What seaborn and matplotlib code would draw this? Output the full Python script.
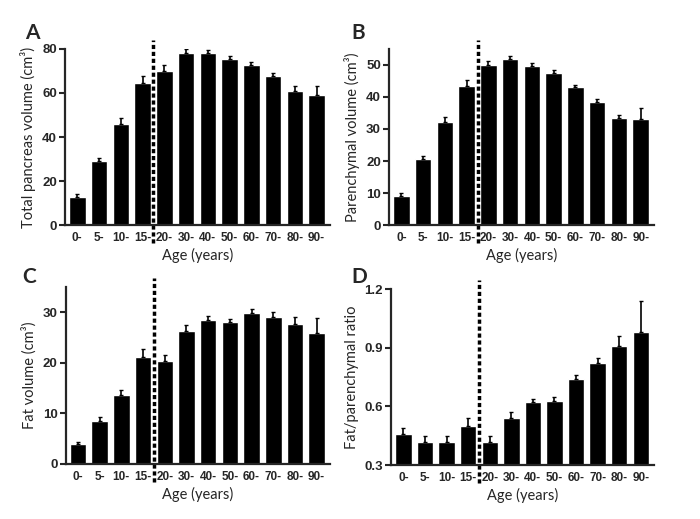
import numpy as np
import pandas as pd
import seaborn as sns
import matplotlib.pyplot as plt

# age groups
ages = ['0-', '5-', '10-', '15-', '20-', '30-', '40-', '50-', '60-', '70-', '80-', '90-']

# panel A: total pancreas volume
total_vol = [13, 29, 46, 64.5, 70, 78, 78, 75.5, 72.5, 67.5, 61, 59]
total_err = [1, 1.5, 2.5, 3, 2.5, 2, 1.5, 1.2, 1.5, 1.5, 2, 4]

# panel B: parenchymal volume
par_vol = [9.2, 20.5, 32.3, 43.3, 49.8, 51.7, 49.7, 47.5, 43, 38.4, 33.3, 33]
par_err = [0.7, 1, 1.5, 2, 1.5, 1.2, 1, 0.8, 0.7, 0.8, 1, 3.4]

# panel C: fat volume
fat_vol = [4, 8.5, 13.7, 21.2, 20.3, 26.3, 28.5, 28, 29.8, 29, 27.7, 26]
fat_err = [0.3, 0.7, 1, 1.5, 1.3, 1.2, 0.8, 0.6, 0.8, 1, 1.3, 2.8]

# panel D: fat/parenchymal ratio
ratio = [0.46, 0.42, 0.42, 0.50, 0.42, 0.54, 0.62, 0.63, 0.74, 0.82, 0.91, 0.98]
ratio_err = [0.03, 0.03, 0.03, 0.04, 0.03, 0.03, 0.02, 0.02, 0.02, 0.03, 0.05, 0.16]

sns.set_style('ticks')
plt.rcParams['font.family'] = ['Lato', 'DejaVu Sans']

fig = plt.figure(figsize=(7, 5.19), dpi=100)

panels = [
    ('A', total_vol, total_err, 'Total pancreas volume (cm³)', (0, 80), [0, 20, 40, 60, 80],
     [0.093, 0.566, 0.378, 0.340]),
    ('B', par_vol, par_err, 'Parenchymal volume (cm³)', (0, 55), [0, 10, 20, 30, 40, 50],
     [0.556, 0.566, 0.378, 0.340]),
    ('C', fat_vol, fat_err, 'Fat volume (cm³)', (0, 35), [0, 10, 20, 30],
     [0.094, 0.106, 0.377, 0.341]),
    ('D', ratio, ratio_err, 'Fat/parenchymal ratio', (0.3, 1.2), [0.3, 0.6, 0.9, 1.2],
     [0.559, 0.104, 0.375, 0.339]),
]

label_pos = {'A': (0.036, 0.955), 'B': (0.502, 0.955), 'C': (0.032, 0.485), 'D': (0.502, 0.485)}

for letter, vals, errs, ylabel, ylim, yticks, rect in panels:
    ax = fig.add_axes(rect)
    df = pd.DataFrame({'age': ages, 'value': vals})
    sns.barplot(data=df, x='age', y='value', color='black', width=0.76,
                saturation=1, errorbar=None, ax=ax)
    x = np.arange(len(ages))
    lower = np.zeros(len(errs))
    ax.errorbar(x, vals, yerr=[lower, errs], fmt='none', ecolor='black',
                elinewidth=1.2, capsize=1.5, capthick=1.0)
    ax.set_xlim(-0.56, 11.6)
    ax.set_ylim(*ylim)
    ax.set_yticks(yticks)
    ax.set_yticklabels([('%g' % t) if letter != 'D' else '%.1f' % t for t in yticks],
                       fontfamily='Liberation Sans', fontweight='bold', fontsize=9.5)
    ax.set_xticks(x)
    ax.set_xticklabels(ages, fontfamily='Liberation Sans', fontweight='bold', fontsize=8.5)
    ax.tick_params(axis='x', length=0, pad=5)
    ax.tick_params(axis='y', length=4, width=1.5, pad=2)
    ax.set_xlabel('Age (years)', fontsize=10.5, labelpad=3)
    ax.set_ylabel(ylabel, fontsize=10.5, labelpad=4)
    for s in ['top', 'right']:
        ax.spines[s].set_visible(False)
    for s in ['left', 'bottom']:
        ax.spines[s].set_linewidth(1.6)
    ax.axvline(3.5, ymin=-0.1, ymax=1.05, color='black', linewidth=2.5,
               linestyle=(0, (1.2, 0.8)), clip_on=False)
    fig.text(label_pos[letter][0], label_pos[letter][1], letter, fontsize=15,
             fontweight='bold', ha='left', va='top')

plt.savefig('out.png', dpi=100)
